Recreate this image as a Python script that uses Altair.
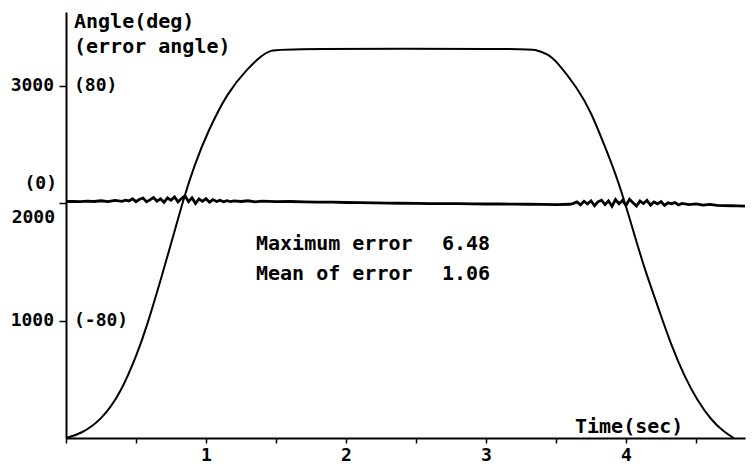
import altair as alt
import pandas as pd

# Main angle curve (sec, deg)
time_s = [0.0, 0.107, 0.25, 0.39, 0.51, 0.58, 0.68, 0.77, 0.834, 0.916, 1.012, 1.155,
          1.30, 1.40, 1.46, 1.55, 3.30, 3.345, 3.44, 3.51, 3.655, 3.75, 3.845, 3.92,
          3.99, 4.06, 4.13, 4.23, 4.32, 4.42, 4.51, 4.61, 4.70, 4.77]
angle_deg = [0, 36, 150, 380, 720, 960, 1360, 1735, 2014, 2320, 2607, 2946,
             3150, 3260, 3300, 3314, 3314, 3308, 3271, 3201, 2975, 2777, 2494, 2269,
             2014, 1732, 1449, 1110, 799, 517, 319, 150, 51, 0]

# Error angle trace (sec, error deg)
err_time_s = [0.0, 0.05, 0.1, 0.15, 0.2, 0.25, 0.3, 0.35, 0.4, 0.425,
              0.45, 0.475, 0.5, 0.525, 0.55, 0.575, 0.6, 0.625, 0.65, 0.675, 0.7, 0.725,
              0.75, 0.775, 0.8, 0.825, 0.85, 0.875, 0.9, 0.925, 0.95, 0.975, 1.0, 1.025,
              1.05, 1.075, 1.1, 1.125, 1.15, 1.175, 1.2,
              1.25, 1.3, 1.35, 1.4, 1.5, 1.6, 1.7, 1.8, 1.9, 2.0, 2.1, 2.2, 2.3, 2.4,
              2.5, 2.6, 2.7, 2.8, 2.9, 3.0, 3.1, 3.2, 3.3, 3.4, 3.5, 3.6,
              3.625, 3.65, 3.675, 3.7, 3.725, 3.75, 3.775, 3.8, 3.825, 3.85, 3.875, 3.9,
              3.925, 3.95, 3.975, 4.0, 4.025, 4.05, 4.075, 4.1, 4.125, 4.15, 4.175, 4.2,
              4.225, 4.25, 4.275, 4.3, 4.325, 4.35, 4.375, 4.4,
              4.45, 4.5, 4.55, 4.6, 4.65, 4.7, 4.75, 4.8, 4.85]
err_deg = [1.1, 1.2, 1.0, 1.4, 1.1, 1.6, 1.0, 1.8, 1.2, 2.0,
           1.5, 3.0, 1.0, 2.6, 3.4, 0.9, 2.2, 3.8, 1.3, 2.9, 0.5, 3.5,
           2.0, 4.2, 0.8, 3.1, 5.0, 1.0, 3.6, -0.3, 2.8, 1.2, 3.0, 0.6,
           2.4, 1.1, 1.9, 0.9, 1.6, 1.0, 1.5,
           1.1, 1.6, 0.9, 1.3, 1.0, 1.1, 0.8, 0.7, 0.6, 0.4, 0.3, 0.1, 0.0, -0.1,
           -0.2, -0.3, -0.4, -0.4, -0.5, -0.6, -0.6, -0.7, -0.8, -0.9, -1.0, -0.8,
           -0.2, 0.8, -1.2, 1.2, -0.6, 1.6, -1.8, 0.9, 2.0, -1.0, 1.5, -2.2,
           2.4, -0.4, 1.8, -1.6, 2.6, 0.2, -2.0, 1.4, -0.3, 1.9, -1.4, 0.8,
           -0.5, 1.0, -1.6, 0.2, -0.4, 0.4, -1.3, -0.2,
           -1.0, -0.6, -1.4, -0.9, -1.6, -1.7, -1.8, -1.9, -2.0]

# Axis ticks and labels
y_ticks = [1000, 2000, 3000]
y_tick_labels = ["1000", "2000", "3000"]
err_tick_labels = ["(-80)", "(0)", "(80)"]
x_ticks = [0, 0.5, 1, 1.5, 2, 2.5, 3, 3.5, 4, 4.5]

annotation_names = ["Maximum error", "Mean of error"]
annotation_values = ["6.48", "1.06"]

FONT = "DejaVu Sans Mono"

curve_df = pd.DataFrame({"t": time_s, "v": angle_deg})
err_df = pd.DataFrame({"t": err_time_s, "e": err_deg})
# error angle scale: 80 deg of error == 1000 deg of angle, zero at 2000
err_df["v"] = 2000 + err_df["e"] * 1000 / 80

xscale = alt.Scale(domain=[0, 4.85], nice=False, zero=False)
yscale = alt.Scale(domain=[0, 3627], nice=False, zero=False)

x_axis = alt.Axis(values=x_ticks, title="", grid=False, domainColor="black",
                  domainWidth=2, tickColor="black", tickWidth=1.5, tickSize=5,
                  labelFont=FONT, labelFontSize=18, labelFontWeight="bold",
                  labelColor="black", labelPadding=3, labelFlush=False,
                  labelOverlap=False,
                  labelExpr="datum.value >= 1 && datum.value % 1 == 0 ? format(datum.value, 'd') : ''")
y_axis = alt.Axis(values=y_ticks, title="", grid=False, labels=False,
                  domainColor="black", domainWidth=2, tickColor="black",
                  tickWidth=1.5, tickSize=7)

base_x = alt.X("t:Q", scale=xscale, axis=x_axis)
base_y = alt.Y("v:Q", scale=yscale, axis=y_axis)

curve = alt.Chart(curve_df).mark_line(color="black", strokeWidth=2,
                                      interpolate="basis").encode(x=base_x, y=base_y)
err_line = alt.Chart(err_df).mark_line(color="black", strokeWidth=2.8).encode(
    x=alt.X("t:Q", scale=xscale), y=alt.Y("v:Q", scale=yscale))

ylab_df = pd.DataFrame({"v": y_ticks, "lab": y_tick_labels, "elab": err_tick_labels})

def txt(df, size=18, **kw):
    return alt.Chart(df).mark_text(font=FONT, fontSize=size, fontWeight="bold",
                                   color="black", baseline="middle", **kw)

ylab_outer = txt(ylab_df[ylab_df.v != 2000], align="right").encode(
    x=alt.value(-12), y=alt.Y("v:Q", scale=yscale), text="lab:N")
ylab_2000 = txt(ylab_df[ylab_df.v == 2000], align="right", dy=15).encode(
    x=alt.value(-11), y=alt.Y("v:Q", scale=yscale), text="lab:N")
elab_outer = txt(ylab_df[ylab_df.v != 2000], align="left").encode(
    x=alt.value(8), y=alt.Y("v:Q", scale=yscale), text="elab:N")
elab_zero = txt(ylab_df[ylab_df.v == 2000], align="right", dy=-19).encode(
    x=alt.value(-9), y=alt.Y("v:Q", scale=yscale), text="elab:N")

one = pd.DataFrame({"a": [0]})
title1 = txt(one, size=20, align="left", text="Angle(deg)").encode(x=alt.value(8), y=alt.value(10))
title2 = txt(one, size=20, align="left", text="(error angle)").encode(x=alt.value(8), y=alt.value(35))
xtitle = txt(one, size=20, align="left", text="Time(sec)").encode(x=alt.value(509), y=alt.value(415))

ann1 = txt(one, size=20, align="left", text=annotation_names[0]).encode(x=alt.value(190), y=alt.value(232))
ann2 = txt(one, size=20, align="left", text=annotation_names[1]).encode(x=alt.value(190), y=alt.value(262))
val1 = txt(one, size=20, align="left", text=annotation_values[0]).encode(x=alt.value(376), y=alt.value(232))
val2 = txt(one, size=20, align="left", text=annotation_values[1]).encode(x=alt.value(376), y=alt.value(262))

chart = alt.layer(curve, err_line, ylab_outer, ylab_2000, elab_outer, elab_zero,
                  title1, title2, xtitle, ann1, ann2, val1, val2).properties(
    width=679, height=426,
    autosize=alt.AutoSizeParams(type="none"),
    padding={"left": 58, "top": 4, "right": 2, "bottom": 30},
    background="white",
).configure_view(stroke=None)

chart.save("out.html", embed_options={"renderer": "svg", "actions": False})
